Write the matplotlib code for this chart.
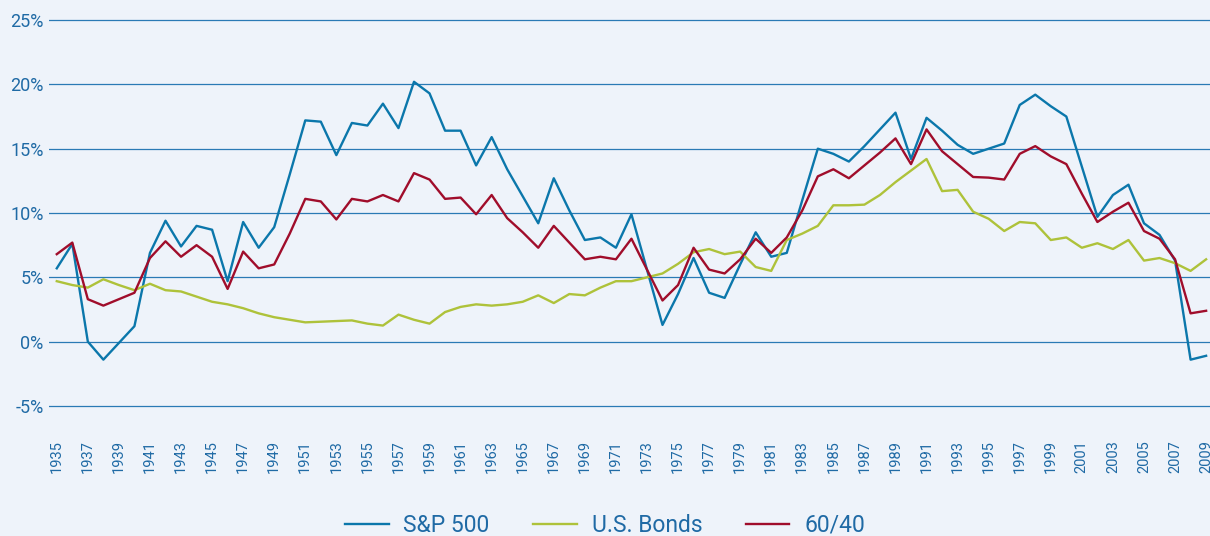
import numpy as np
import matplotlib
matplotlib.use("Agg")
import matplotlib.pyplot as plt

years = list(range(1935, 2010))

sp500 = [5.7, 7.6, 0.0, -1.4, -0.1, 1.2, 6.9, 9.4, 7.4, 9.0,
         8.7, 4.7, 9.3, 7.3, 8.9, 13.0, 17.2, 17.1, 14.5, 17.0,
         16.8, 18.5, 16.6, 20.2, 19.3, 16.4, 16.4, 13.7, 15.9, 13.4,
         11.3, 9.2, 12.7, 10.2, 7.9, 8.1, 7.3, 9.9, 5.6, 1.3,
         3.7, 6.5, 3.8, 3.4, 6.0, 8.5, 6.6, 6.9, 11.0, 15.0,
         14.6, 14.0, 15.2, 16.5, 17.8, 14.2, 17.4, 16.4, 15.3, 14.6,
         15.0, 15.4, 18.4, 19.2, 18.3, 17.5, 13.6, 9.7, 11.4, 12.2,
         9.2, 8.3, 6.3, -1.4, -1.1]

bonds = [4.7, 4.4, 4.2, 4.85, 4.4, 4.0, 4.5, 4.0, 3.9, 3.5,
         3.1, 2.9, 2.6, 2.2, 1.9, 1.7, 1.5, 1.55, 1.6, 1.65,
         1.4, 1.25, 2.1, 1.7, 1.4, 2.3, 2.7, 2.9, 2.8, 2.9,
         3.1, 3.6, 3.0, 3.7, 3.6, 4.2, 4.7, 4.7, 5.0, 5.3,
         6.05, 6.95, 7.2, 6.8, 7.0, 5.8, 5.5, 7.9, 8.4, 9.0,
         10.6, 10.6, 10.65, 11.4, 12.4, 13.3, 14.2, 11.7, 11.8, 10.1,
         9.55, 8.6, 9.3, 9.2, 7.9, 8.1, 7.3, 7.65, 7.2, 7.9,
         6.3, 6.5, 6.1, 5.5, 6.4]

mix_6040 = [6.8, 7.7, 3.3, 2.8, 3.3, 3.8, 6.5, 7.8, 6.6, 7.5,
            6.6, 4.1, 7.0, 5.7, 6.0, 8.4, 11.1, 10.9, 9.5, 11.1,
            10.9, 11.4, 10.9, 13.1, 12.6, 11.1, 11.2, 9.9, 11.4, 9.6,
            8.5, 7.3, 9.0, 7.7, 6.4, 6.6, 6.4, 8.0, 5.6, 3.2,
            4.4, 7.3, 5.6, 5.3, 6.4, 8.0, 6.9, 8.1, 10.2, 12.85,
            13.4, 12.7, 13.7, 14.7, 15.8, 13.8, 16.5, 14.8, 13.8, 12.8,
            12.75, 12.6, 14.6, 15.2, 14.4, 13.8, 11.5, 9.3, 10.1, 10.8,
            8.6, 8.0, 6.4, 2.2, 2.4]

y_ticks = [-5, 0, 5, 10, 15, 20, 25]
x_ticks = list(range(1935, 2010, 2))

bg = "#eef3fa"
text_blue = "#1f6aa5"
grid_blue = "#2a7ab5"

plt.rcParams['font.family'] = ['Roboto', 'DejaVu Sans']

fig = plt.figure(figsize=(12.1, 5.36), dpi=100, facecolor=bg)
ax = fig.add_axes([0.0405, 0.2306, 0.9595, 0.744])
ax.set_facecolor(bg)

ax.plot(years, sp500, color="#0b77ab", lw=1.7, label="S&P 500", zorder=3)
ax.plot(years, bonds, color="#aec23a", lw=1.7, label="U.S. Bonds", zorder=3)
ax.plot(years, mix_6040, color="#a00d2b", lw=1.7, label="60/40", zorder=4)

ax.set_xlim(1934.5, 2009.25)
ax.set_ylim(-5.5, 25.5)
ax.set_yticks(y_ticks)
ax.set_yticklabels([f"{v}%" for v in y_ticks])
ax.set_xticks(x_ticks)
ax.set_xticklabels([str(y) for y in x_ticks], rotation=90)

for v in y_ticks:
    ax.axhline(v, color=grid_blue, lw=0.9, zorder=1)

for s in ax.spines.values():
    s.set_visible(False)
ax.tick_params(axis="both", length=0, colors=text_blue)
ax.tick_params(axis="y", labelsize=13, pad=4)
ax.tick_params(axis="x", labelsize=10.5, pad=20)

# legend hugs the bottom edge, as in the original
fig.legend(loc="lower center", bbox_to_anchor=(0.5, -0.04), ncol=3, frameon=False,
           fontsize=16.5, labelcolor=text_blue, handlelength=1.9, handletextpad=0.65,
           columnspacing=1.9)

plt.savefig("out.png", dpi=100, facecolor=bg)
